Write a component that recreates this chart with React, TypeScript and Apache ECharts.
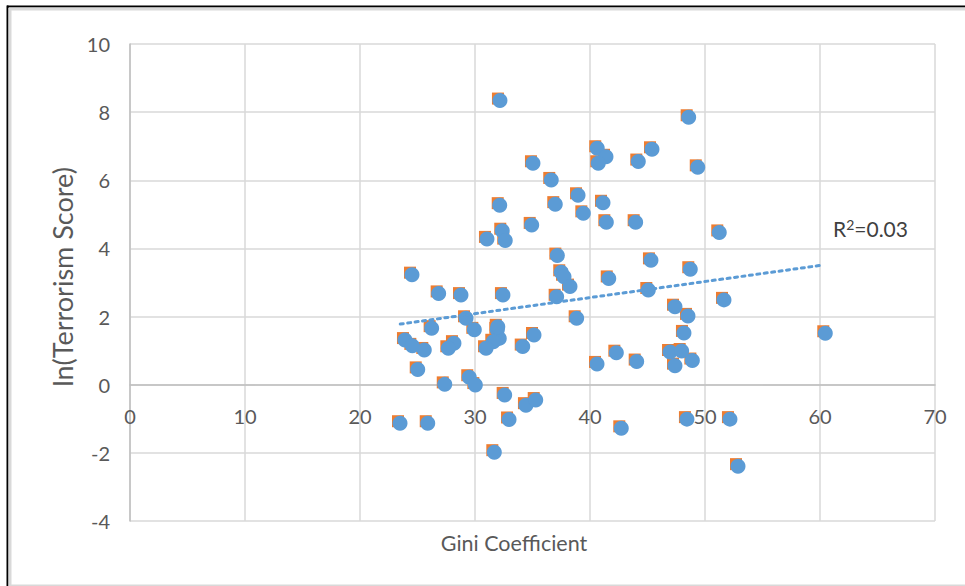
import React, { useEffect, useRef } from "react";
import * as echarts from "echarts";

const gini: number[] = [
  32.17, 48.58, 40.63, 41.39, 40.72, 44.2, 45.39, 49.37, 35.04, 36.63,
  38.96, 32.15, 36.98, 41.13, 39.42, 41.42, 43.97, 34.93, 51.24, 32.37,
  31.04, 32.63, 37.16, 45.3, 24.52, 37.5, 37.74, 48.72, 41.63, 38.26,
  45.07, 47.39, 26.84, 28.78, 32.43, 37.1, 51.65, 48.52, 38.84, 29.22,
  29.94, 26.23, 31.94, 23.91, 35.13, 32.11, 31.59, 30.96, 48.17, 60.46,
  24.55, 28.17, 27.68, 25.59, 34.15, 40.61, 42.29, 44.06, 46.96, 47.97,
  48.9, 47.39, 25.02, 27.37, 29.5, 30.03, 32.58, 34.43, 35.28, 32.96,
  23.48, 25.89, 48.43, 52.17, 42.72, 31.68, 52.87, 31.98,
];
const lnTerror: number[] = [
  8.34, 7.85, 6.94, 6.69, 6.5, 6.55, 6.91, 6.38, 6.5, 6.01,
  5.56, 5.27, 5.3, 5.34, 5.03, 4.77, 4.77, 4.69, 4.47, 4.52,
  4.28, 4.23, 3.79, 3.65, 3.23, 3.3, 3.17, 3.39, 3.12, 2.88,
  2.78, 2.29, 2.68, 2.63, 2.63, 2.58, 2.49, 2.02, 1.95, 1.95,
  1.61, 1.66, 1.61, 1.31, 1.46, 1.36, 1.26, 1.07, 1.52, 1.51,
  1.14, 1.22, 1.07, 1.02, 1.12, 0.61, 0.94, 0.68, 0.96, 0.99,
  0.71, 0.56, 0.45, 0.01, 0.22, -0.01, -0.3, -0.6, -0.45, -1.02,
  -1.13, -1.13, -1.01, -1.01, -1.28, -1.98, -2.39, 1.7,
];
const trendX: number[] = [23.5, 60.0];
const trendY: number[] = [1.78, 3.5];
const xTicks = { min: 0, max: 70, interval: 10 };
const yTicks = { min: -4, max: 10, interval: 2 };
const xTitle = "Gini Coefficient";
const yTitle = "ln(Terrorism Score)";
const r2Label = "R{sup|2}=0.03";

const FONT = "Lato, 'Open Sans', sans-serif";

const GRID_TOP = 44;
const GRID_BOTTOM = 65;
const CHART_H = 586;

export default function App() {
  const ref = useRef<HTMLDivElement>(null);
  useEffect(() => {
    if (!ref.current) return;
    const chart = echarts.init(ref.current, null, { renderer: "svg" });
    const pts = gini.map((g, i) => [g, lnTerror[i]]);
    const trend = trendX.map((t, i) => [t, trendY[i]]);
    // shift the x axis up so that it crosses the y axis at 0
    const plotH = CHART_H - GRID_TOP - GRID_BOTTOM;
    const zeroOffset = -plotH * (0 - yTicks.min) / (yTicks.max - yTicks.min);
    chart.setOption({
      animation: false,
      backgroundColor: "#ffffff",
      textStyle: { fontFamily: FONT },
      grid: { left: 130, right: 30, top: GRID_TOP, bottom: GRID_BOTTOM, containLabel: false, outerBoundsMode: "none" },
      xAxis: {
        type: "value",
        min: xTicks.min,
        max: xTicks.max,
        interval: xTicks.interval,
        offset: zeroOffset,
        axisLine: { show: true, onZero: false, lineStyle: { color: "#bfbfbf", width: 1.5 } },
        axisTick: { show: false },
        axisLabel: { color: "#595959", fontSize: 20, margin: 21, fontFamily: FONT },
        splitLine: { show: true, lineStyle: { color: "#d9d9d9", width: 1.5 } },
      },
      yAxis: {
        type: "value",
        min: yTicks.min,
        max: yTicks.max,
        interval: yTicks.interval,
        axisLine: { show: true, onZero: false, lineStyle: { color: "#bfbfbf", width: 1.5 } },
        axisTick: { show: false },
        axisLabel: { color: "#595959", fontSize: 20, margin: 20, fontFamily: FONT },
        splitLine: { show: true, lineStyle: { color: "#d9d9d9", width: 1.5 } },
      },
      series: [
        {
          type: "scatter",
          data: pts,
          symbol: "rect",
          symbolSize: 12,
          symbolOffset: [-2, -2],
          itemStyle: { color: "#ED7D31", opacity: 1 },
          z: 2,
        },
        {
          type: "scatter",
          data: pts,
          symbol: "circle",
          symbolSize: 15,
          itemStyle: { color: "#5B9BD5", opacity: 1 },
          z: 3,
        },
        {
          type: "line",
          data: trend,
          symbol: "none",
          lineStyle: { color: "#5B9BD5", width: 3, type: [3, 4.5], cap: "round" },
          z: 4,
        },
      ],
      graphic: [
        { type: "line", shape: { x1: 7, y1: 6.5, x2: 965, y2: 6.5 }, style: { stroke: "#000", lineWidth: 2 }, silent: true },
        { type: "line", shape: { x1: 9, y1: 9, x2: 965, y2: 9 }, style: { stroke: "#d9d9d9", lineWidth: 3 }, silent: true },
        { type: "line", shape: { x1: 7.5, y1: 5.5, x2: 7.5, y2: 586 }, style: { stroke: "#000", lineWidth: 2 }, silent: true },
        { type: "line", shape: { x1: 10, y1: 8, x2: 10, y2: 586 }, style: { stroke: "#d9d9d9", lineWidth: 3 }, silent: true },
        { type: "line", shape: { x1: 9, y1: 585.3, x2: 965, y2: 585.3 }, style: { stroke: "#d9d9d9", lineWidth: 1.5 }, silent: true },
        {
          type: "text",
          x: 514,
          y: 543,
          style: { text: xTitle, fill: "#595959", fontSize: 21.5, fontFamily: FONT, textVerticalAlign: "middle", textAlign: "center" },
          silent: true,
        },
        {
          type: "text",
          x: 62,
          y: 277,
          rotation: Math.PI / 2,
          style: { text: yTitle, fill: "#595959", fontSize: 27, fontFamily: FONT, textVerticalAlign: "middle", textAlign: "center" },
          silent: true,
        },
        {
          type: "text",
          x: 833,
          y: 228,
          style: {
            text: r2Label,
            fill: "#404040",
            fontSize: 21,
            fontFamily: FONT,
            textVerticalAlign: "middle",
            textAlign: "left",
            rich: { sup: { fontSize: 14, verticalAlign: "top", fill: "#404040", fontFamily: FONT } },
          },
          silent: true,
        },
      ],
    });
    return () => chart.dispose();
  }, []);
  return <div ref={ref} style={{ position: "fixed", left: 0, top: 0, width: 965, height: 586 }} />;
}
